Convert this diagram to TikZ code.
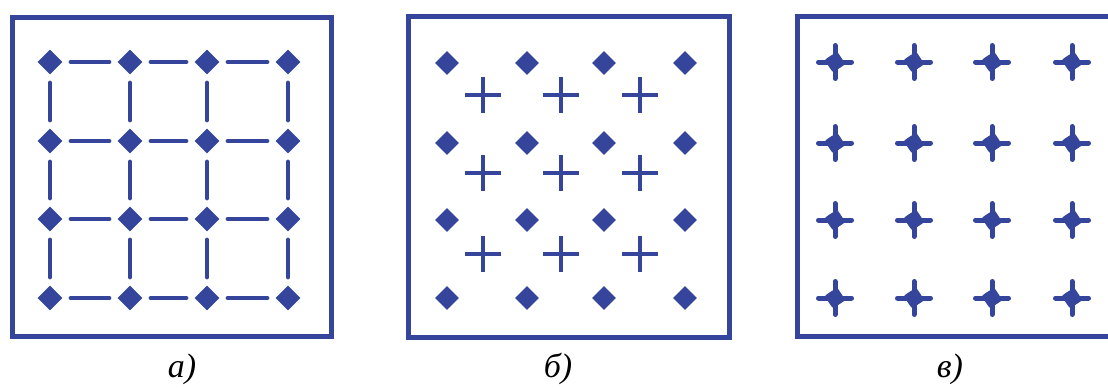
\documentclass[tikz,border=0pt]{standalone}
\usepackage{fontspec}
\setmainfont{Liberation Serif}
\usetikzlibrary{shapes.geometric}
\definecolor{ink}{HTML}{35459B}
\tikzset{
  frame/.style={draw=ink, line width=5pt},
  dia/.style={diamond, fill=ink, inner sep=0pt, minimum width=25pt, minimum height=25pt},
  link/.style={draw=ink, line width=4.2pt, line cap=round, shorten <=8pt, shorten >=8pt},
  crossmark/.style={draw=ink, line width=4pt},
  starmark/.style={draw=ink, line width=5pt, line cap=round},
  lab/.style={font=\itshape\fontsize{34}{40}\selectfont, text=black, anchor=base}
}
\begin{document}
\begin{tikzpicture}[x=1pt,y=-1pt]
\useasboundingbox (0,0) rectangle (1108,388);
% frames
\draw[frame] (12,17) rectangle (331,336);
\draw[frame] (408.5,16.5) rectangle (729.5,337.5);
\draw[frame] (797.5,16.5) rectangle (1120,336.5);
% panel a
\foreach \x [count=\i] in {50,130,207,288}{
  \foreach \y [count=\j] in {62,141,219,298}{
    \node[dia] (a-\i-\j) at (\x,\y) {};
  }
}
\foreach \i [evaluate=\i as \n using int(\i+1)] in {1,2,3}{
  \foreach \j in {1,2,3,4}{
    \draw[link] (a-\i-\j) -- (a-\n-\j);
    \draw[link] (a-\j-\i) -- (a-\j-\n);
  }
}
% panel b
\foreach \x [count=\i] in {447,527,604,685}{
  \foreach \y [count=\j] in {63,143,220,298}{
    \node[dia, minimum width=24pt, minimum height=24pt] (b-\i-\j) at (\x,\y) {};
  }
}
\foreach \x [count=\i] in {483,561,640}{
  \foreach \y [count=\j] in {95,173,254}{
    \coordinate (bc-\i-\j) at (\x,\y);
    \draw[crossmark] (bc-\i-\j) +(-18,0) -- +(18,0) +(0,-18) -- +(0,18);
  }
}
% panel c
\foreach \x [count=\i] in {835,914,992,1072}{
  \foreach \y [count=\j] in {62,143,220,298}{
    \coordinate (c-\i-\j) at (\x,\y);
    \draw[starmark] (c-\i-\j) +(-16.5,0) -- +(16.5,0) +(0,-16.5) -- +(0,16.5);
    \fill[ink] (c-\i-\j) +(-9,0) .. controls +(-2,-2) .. +(0,-9)
      .. controls +(2,-2) .. +(9,0) .. controls +(2,2) .. +(0,9)
      .. controls +(-2,2) .. cycle;
  }
}
% labels
\node[lab] (la) at (182,377) {а)};
\node[lab] (lb) at (558,377) {б)};
\node[lab] (lc) at (950,377) {в)};
\end{tikzpicture}
\end{document}
